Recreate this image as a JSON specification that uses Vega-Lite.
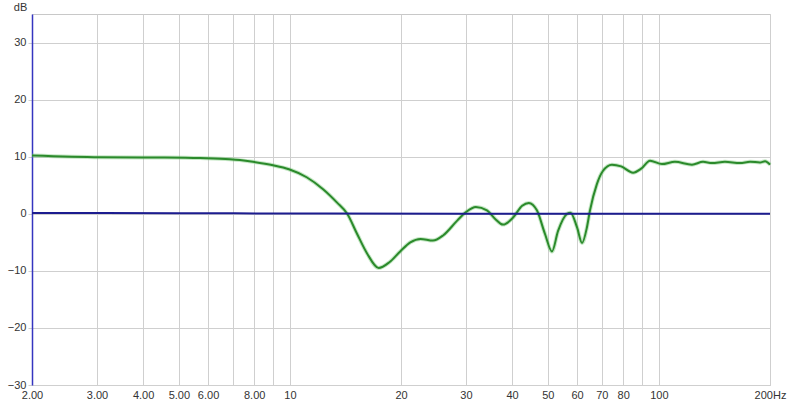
{
  "$schema": "https://vega.github.io/schema/vega-lite/v6.json",
  "width": 738,
  "height": 371,
  "autosize": {"type": "none"},
  "padding": {"left": 32, "top": 14, "right": 30, "bottom": 21},
  "background": "white",
  "config": {
    "view": {"stroke": "#c8c8c8", "strokeWidth": 1},
    "axis": {"labelFont": "Liberation Sans", "labelFontSize": 11, "labelColor": "#333333", "titleFont": "Liberation Sans", "titleFontSize": 11, "titleColor": "#333333", "titleFontWeight": "normal", "gridColor": "#cfcfcf", "gridWidth": 1}
  },
  "data": {"values": [
    {"f": 2.0, "db": 10.2, "s": "A"},
    {"f": 3.06, "db": 9.9, "s": "A"},
    {"f": 4.5, "db": 9.85, "s": "A"},
    {"f": 5.71, "db": 9.75, "s": "A"},
    {"f": 6.88, "db": 9.55, "s": "A"},
    {"f": 7.32, "db": 9.4, "s": "A"},
    {"f": 7.94, "db": 9.1, "s": "A"},
    {"f": 9.0, "db": 8.5, "s": "A"},
    {"f": 9.94, "db": 7.8, "s": "A"},
    {"f": 11.1, "db": 6.4, "s": "A"},
    {"f": 12.3, "db": 4.3, "s": "A"},
    {"f": 13.4, "db": 2.0, "s": "A"},
    {"f": 14.3, "db": 0.0, "s": "A"},
    {"f": 15.2, "db": -3.5, "s": "A"},
    {"f": 16.2, "db": -7.0, "s": "A"},
    {"f": 17.4, "db": -9.5, "s": "A"},
    {"f": 18.6, "db": -8.5, "s": "A"},
    {"f": 19.9, "db": -6.6, "s": "A"},
    {"f": 21.2, "db": -5.0, "s": "A"},
    {"f": 22.6, "db": -4.4, "s": "A"},
    {"f": 24.4, "db": -4.7, "s": "A"},
    {"f": 26.0, "db": -3.8, "s": "A"},
    {"f": 28.4, "db": -1.2, "s": "A"},
    {"f": 30.0, "db": 0.3, "s": "A"},
    {"f": 31.9, "db": 1.2, "s": "A"},
    {"f": 34.2, "db": 0.6, "s": "A"},
    {"f": 36.0, "db": -0.9, "s": "A"},
    {"f": 37.8, "db": -1.9, "s": "A"},
    {"f": 40.2, "db": -0.7, "s": "A"},
    {"f": 42.6, "db": 1.4, "s": "A"},
    {"f": 44.4, "db": 1.9, "s": "A"},
    {"f": 46.7, "db": 0.6, "s": "A"},
    {"f": 49.1, "db": -3.5, "s": "A"},
    {"f": 51.3, "db": -6.6, "s": "A"},
    {"f": 53.3, "db": -3.0, "s": "A"},
    {"f": 56.4, "db": 0.0, "s": "A"},
    {"f": 57.6, "db": 0.2, "s": "A"},
    {"f": 60.0, "db": -2.4, "s": "A"},
    {"f": 61.9, "db": -5.1, "s": "A"},
    {"f": 63.8, "db": -2.4, "s": "A"},
    {"f": 65.0, "db": 0.5, "s": "A"},
    {"f": 67.9, "db": 5.2, "s": "A"},
    {"f": 70.5, "db": 7.5, "s": "A"},
    {"f": 74.6, "db": 8.6, "s": "A"},
    {"f": 79.0, "db": 8.3, "s": "A"},
    {"f": 85.1, "db": 7.2, "s": "A"},
    {"f": 89.5, "db": 7.9, "s": "A"},
    {"f": 94.6, "db": 9.3, "s": "A"},
    {"f": 101.9, "db": 8.7, "s": "A"},
    {"f": 110.5, "db": 9.1, "s": "A"},
    {"f": 122.9, "db": 8.6, "s": "A"},
    {"f": 131.7, "db": 9.1, "s": "A"},
    {"f": 139.3, "db": 8.9, "s": "A"},
    {"f": 151.0, "db": 9.1, "s": "A"},
    {"f": 165.9, "db": 8.9, "s": "A"},
    {"f": 176.6, "db": 9.1, "s": "A"},
    {"f": 187.9, "db": 9.0, "s": "A"},
    {"f": 193.9, "db": 9.2, "s": "A"},
    {"f": 200.0, "db": 8.6, "s": "A"},
    {"f": 2.0, "db": 0.15, "s": "B"},
    {"f": 5.0, "db": 0.1, "s": "B"},
    {"f": 10.0, "db": 0.05, "s": "B"},
    {"f": 30.0, "db": 0.0, "s": "B"},
    {"f": 100.0, "db": 0.0, "s": "B"},
    {"f": 200.0, "db": 0.0, "s": "B"}
  ]},
  "resolve": {"axis": {"x": "independent", "y": "independent"}},
  "encoding": {
    "y": {"field": "db", "type": "quantitative", "scale": {"domain": [-30, 35], "nice": false, "zero": false}}
  },
  "layer": [
    {
      "mark": {"type": "line", "strokeWidth": 0, "opacity": 0},
      "encoding": {
        "x": {"field": "f", "type": "quantitative", "scale": {"type": "log", "domain": [2, 200], "nice": false},
          "axis": {"orient": "bottom", "values": [2,3,4,5,6,7,8,9,10,20,30,40,50,60,70,80,90,100,200], "grid": true, "labels": false, "ticks": false, "domain": false, "title": null}},
        "y": {"field": "db", "type": "quantitative", "axis": {"orient": "left", "values": [-30,-20,-10,0,10,20,30], "grid": true, "labels": false, "ticks": false, "domain": false, "title": null}}
      }
    },
    {
      "transform": [{"filter": "datum.s == 'A'"}],
      "mark": {"type": "line", "interpolate": "monotone", "strokeWidth": 4, "color": "#7fc97f", "opacity": 0.45},
      "encoding": {
        "x": {"field": "f", "type": "quantitative", "axis": null},
        "y": {"field": "db", "type": "quantitative", "axis": null}
      }
    },
    {
      "mark": {"type": "line", "interpolate": "monotone", "strokeWidth": 2},
      "encoding": {
        "x": {"field": "f", "type": "quantitative",
          "axis": {"orient": "bottom", "values": [2,3,4,5,6,8,10,20,30,40,50,60,70,80,100,200], "grid": false, "ticks": false, "domain": false, "labelPadding": 4, "labelFlush": false, "labelOverlap": false, "title": null,
            "labelExpr": "datum.value == 200 ? '200Hz' : datum.value < 10 ? format(datum.value, '.2f') : format(datum.value, 'd')"}},
        "y": {"field": "db", "type": "quantitative",
          "axis": {"orient": "left", "values": [-30,-20,-10,0,10,20,30], "grid": false, "ticks": true, "tickColor": "#cfcfcf", "tickSize": 4, "domain": true, "domainColor": "#3535c0", "domainWidth": 1.5, "labelPadding": 2, "labelFlush": false,
            "title": "dB", "titleAngle": 0, "titleX": -12, "titleY": -7, "titleAlign": "center", "titleBaseline": "middle"}},
        "color": {"field": "s", "type": "nominal", "scale": {"domain": ["A", "B"], "range": ["#2b8a2b", "#1c1c8f"]}, "legend": null}
      }
    }
  ]
}
